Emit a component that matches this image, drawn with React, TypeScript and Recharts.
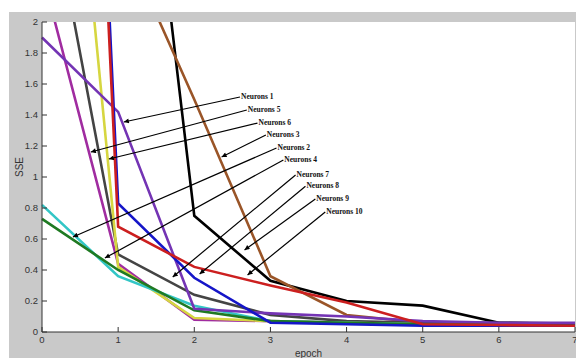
import { LineChart, Line, XAxis, YAxis, CartesianGrid, ReferenceLine, ReferenceDot } from 'recharts'

const epochs = [0, 1, 2, 3, 4, 5, 6, 7]

// SSE per epoch (values above 2 run off the top of the axes)
const sseBlack = [8, 4.9, 0.75, 0.33, 0.2, 0.17, 0.06, 0.055]
const sseBrown = [3.7, 2.6, 1.5, 0.36, 0.11, 0.06, 0.05, 0.05]
const sseRed = [11, 0.68, 0.42, 0.3, 0.19, 0.05, 0.045, 0.04]
const sseBlue = [11.4, 0.83, 0.35, 0.06, 0.05, 0.04, 0.04, 0.04]
const sseYellow = [5.5, 0.42, 0.09, 0.07, 0.06, 0.05, 0.05, 0.05]
const sseGray = [3.1, 0.5, 0.24, 0.11, 0.07, 0.06, 0.06, 0.05]
const sseMagenta = [2.32, 0.44, 0.08, 0.07, 0.06, 0.05, 0.05, 0.05]
const ssePurple = [1.9, 1.42, 0.15, 0.12, 0.1, 0.07, 0.06, 0.06]
const sseCyan = [0.82, 0.36, 0.17, 0.07, 0.06, 0.05, 0.05, 0.05]
const sseGreen = [0.73, 0.4, 0.14, 0.07, 0.06, 0.05, 0.05, 0.05]

const xTicks = [0, 1, 2, 3, 4, 5, 6, 7]
const yTicks = [0, 0.2, 0.4, 0.6, 0.8, 1, 1.2, 1.4, 1.6, 1.8, 2]

// annotation arrows: label, text-end point, arrow tip (data coords)
const annLabels = ['Neurons 1', 'Neurons 5', 'Neurons 6', 'Neurons 3', 'Neurons 2', 'Neurons 4', 'Neurons 7', 'Neurons 8', 'Neurons 9', 'Neurons 10']
const annFromX = [2.6, 2.69, 2.83, 2.94, 3.08, 3.17, 3.33, 3.46, 3.59, 3.72]
const annFromY = [1.516, 1.432, 1.348, 1.271, 1.187, 1.11, 1.013, 0.94, 0.858, 0.774]
const annToX = [1.075, 0.642, 0.878, 2.359, 0.406, 0.826, 1.717, 2.07, 2.66, 2.7]
const annToY = [1.355, 1.161, 1.116, 1.129, 0.613, 0.477, 0.355, 0.374, 0.529, 0.368]

const series = [
  { key: 'black', values: sseBlack, color: '#000000' },
  { key: 'brown', values: sseBrown, color: '#9a5528' },
  { key: 'magenta', values: sseMagenta, color: '#a02ca0' },
  { key: 'gray', values: sseGray, color: '#444444' },
  { key: 'yellow', values: sseYellow, color: '#d6d640' },
  { key: 'cyan', values: sseCyan, color: '#33c6c6' },
  { key: 'green', values: sseGreen, color: '#1f7a22' },
  { key: 'purple', values: ssePurple, color: '#7434b4' },
  { key: 'blue', values: sseBlue, color: '#1515c8' },
  { key: 'red', values: sseRed, color: '#cc1f1f' },
]

const data = epochs.map((e, i) => {
  const row: Record<string, number> = { epoch: e }
  series.forEach((s) => {
    row[s.key] = s.values[i]
  })
  return row
})

const axisColor = '#333'
const tickFont = { fontSize: 9.5, fill: '#333', fontFamily: 'Liberation Sans, Arial, sans-serif' }

const AnnText = (props: any) => {
  const vb = props.viewBox || {}
  return (
    <text
      x={vb.x + 1}
      y={vb.y + 2}
      fontSize={7.5}
      fontWeight="bold"
      fontFamily="Liberation Serif, Times New Roman, serif"
      fill="#111"
    >
      {props.text}
    </text>
  )
}

export default function App() {
  return (
    <div style={{ position: 'absolute', left: 0, top: 0, width: 576, height: 358, background: '#fff', overflow: 'hidden' }}>
      <div style={{ position: 'absolute', left: 9, top: 12, right: 0, bottom: 0, background: '#c9c9c9' }} />
      <div style={{ position: 'absolute', left: 0, top: 0 }}>
        <LineChart width={576} height={358} data={data} margin={{ top: 22, right: 1, bottom: 0, left: 0 }}>
          <defs>
            <marker id="arrowHead" viewBox="0 0 10 10" refX="10" refY="5" markerUnits="userSpaceOnUse" markerWidth="6" markerHeight="5" orient="auto">
              <path d="M0,0 L10,5 L0,10 z" fill="#000" />
            </marker>
          </defs>
          <CartesianGrid horizontal={false} vertical={false} fill="#fff" />
          <XAxis
            dataKey="epoch"
            type="number"
            domain={[0, 7]}
            ticks={xTicks}
            height={26}
            stroke={axisColor}
            tickSize={-5}
            tickMargin={9}
            tick={tickFont}
            interval={0}
            label={{ value: 'epoch', position: 'insideBottom', offset: 1, fontSize: 10, fill: '#333', fontFamily: 'Liberation Sans, Arial, sans-serif' }}
          />
          <XAxis xAxisId="top" orientation="top" dataKey="epoch" type="number" domain={[0, 7]} ticks={xTicks} height={0} stroke={axisColor} tickSize={-5} tick={false} />
          <YAxis
            type="number"
            domain={[0, 2]}
            allowDataOverflow
            ticks={yTicks}
            width={42}
            stroke={axisColor}
            tickSize={-5}
            tickMargin={9}
            tick={tickFont}
            interval={0}
            label={{ value: 'SSE', angle: -90, position: 'insideLeft', offset: 19, fontSize: 10, fill: '#333', fontFamily: 'Liberation Sans, Arial, sans-serif' }}
          />
          <YAxis yAxisId="right" orientation="right" type="number" domain={[0, 2]} ticks={yTicks} width={0} stroke={axisColor} tickSize={-5} tick={false} />
          {series.map((s) => (
            <Line
              key={s.key}
              type="linear"
              dataKey={s.key}
              stroke={s.color}
              strokeWidth={2.6}
              dot={false}
              activeDot={false}
              isAnimationActive={false}
            />
          ))}
          {annLabels.map((t, i) => (
            <ReferenceLine
              key={'l' + t}
              segment={[
                { x: annFromX[i], y: annFromY[i] },
                { x: annToX[i], y: annToY[i] },
              ]}
              stroke="#000"
              strokeWidth={1.2}
              shape={(p: any) => (
                <line x1={p.x1} y1={p.y1} x2={p.x2} y2={p.y2} stroke="#000" strokeWidth={1.2} markerEnd="url(#arrowHead)" />
              )}
            />
          ))}
          {annLabels.map((t, i) => (
            <ReferenceDot key={'d' + t} x={annFromX[i]} y={annFromY[i]} r={0} fill="none" stroke="none" label={<AnnText text={t} />} />
          ))}
        </LineChart>
      </div>
    </div>
  )
}
